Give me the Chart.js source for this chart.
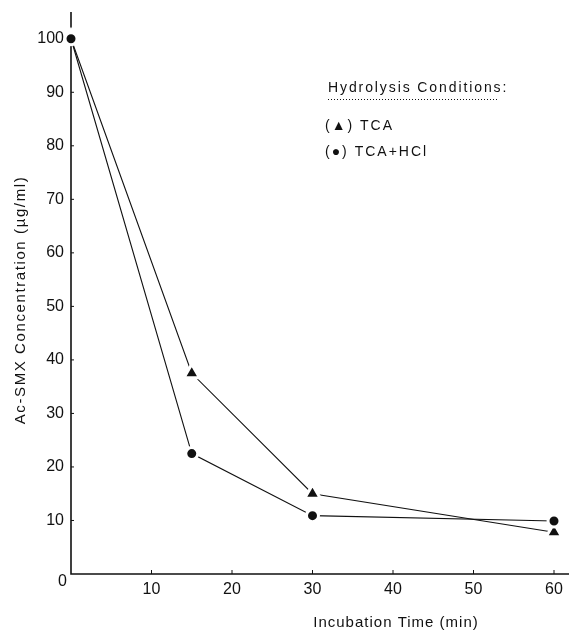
<!DOCTYPE html>
<html>
<head>
<meta charset="utf-8">
<script src="https://cdn.jsdelivr.net/npm/chart.js@4/dist/chart.umd.min.js"></script>
<style>
  html, body { margin: 0; padding: 0; background: #fff; }
  #wrap { width: 569px; height: 631px; position: relative; }
</style>
</head>
<body>
<div id="wrap"><canvas id="c" width="569" height="631"></canvas></div>
<script>
const times = [0, 15, 30, 60];
const tca = [100, 37.5, 15.0, 7.8];
const tcaHcl = [100, 22.5, 10.9, 9.9];
const seriesNames = ['TCA', 'TCA+HCl'];
const xTitle = 'Incubation Time (min)';
const yTitle = 'Ac-SMX Concentration (\u00b5g/ml)';
const legendTitle = 'Hydrolysis Conditions:';
const legendItems = ['(\u25B2) TCA', '(\u25CF) TCA+HCl'];

const INK = '#111';

const decor = {
  id: 'decor',
  beforeDatasetsDraw(chart) {
    const { ctx, chartArea: a, scales: { x, y } } = chart;
    ctx.save();
    ctx.strokeStyle = INK;
    ctx.lineWidth = 1.6;
    ctx.beginPath();
    ctx.moveTo(a.left, 12);
    ctx.lineTo(a.left, a.bottom);
    ctx.lineTo(569, a.bottom);
    ctx.stroke();
    ctx.lineWidth = 1;
    y.ticks.forEach(t => {
      if (t.value === 0) return;
      const py = y.getPixelForValue(t.value);
      ctx.beginPath(); ctx.moveTo(a.left, py); ctx.lineTo(a.left + 3, py); ctx.stroke();
    });
    x.ticks.forEach(t => {
      if (t.value === 0) return;
      const px = x.getPixelForValue(t.value);
      ctx.beginPath(); ctx.moveTo(px, a.bottom); ctx.lineTo(px, a.bottom - 4); ctx.stroke();
    });
    ctx.restore();
  },
  afterDraw(chart) {
    const { ctx } = chart;
    ctx.save();
    ctx.fillStyle = INK;
    ctx.font = '16px "Liberation Sans", Arial, sans-serif';
    ctx.textAlign = 'center';
    ctx.textBaseline = 'middle';
    ctx.fillText('0', 62.5, 582);
    // x title
    ctx.font = '15px "Liberation Sans", Arial, sans-serif';
    ctx.letterSpacing = '1px';
    ctx.fillText(xTitle, 396, 623);
    // y title
    ctx.save();
    ctx.translate(21, 300);
    ctx.rotate(-Math.PI / 2);
    ctx.letterSpacing = '1.6px';
    ctx.fillText(yTitle, 0, 0);
    ctx.restore();
    // legend
    ctx.letterSpacing = '1.9px';
    ctx.font = '14px "Liberation Sans", Arial, sans-serif';
    ctx.textAlign = 'left';
    ctx.textBaseline = 'alphabetic';
    ctx.fillText(legendTitle, 328, 92);
    ctx.save();
    ctx.strokeStyle = INK;
    ctx.lineWidth = 1;
    ctx.setLineDash([1, 2]);
    ctx.beginPath(); ctx.moveTo(328, 99.5); ctx.lineTo(498, 99.5); ctx.stroke();
    ctx.restore();
    ctx.letterSpacing = '2px';
    ctx.font = '14px "Liberation Sans", "DejaVu Sans", sans-serif';
    ctx.fillText(legendItems[0], 325, 130);
    ctx.fillText(legendItems[1], 325, 156);
    ctx.restore();
  }
};

const mk = (arr) => times.map((t, i) => ({ x: t, y: arr[i] }));

new Chart(document.getElementById('c'), {
  type: 'line',
  data: {
    datasets: [
      {
        label: seriesNames[1], data: mk(tcaHcl),
        borderColor: INK, borderWidth: 1.1,
        pointStyle: 'circle', pointRadius: 6, pointBackgroundColor: INK,
        pointBorderColor: '#fff', pointBorderWidth: 3, tension: 0
      },
      {
        label: seriesNames[0], data: mk(tca),
        borderColor: INK, borderWidth: 1.1,
        pointStyle: 'triangle', pointRadius: 9, pointBackgroundColor: INK,
        pointBorderColor: '#fff', pointBorderWidth: 3, tension: 0
      }
    ]
  },
  options: {
    responsive: false,
    animation: false,
    clip: false,
    layout: { padding: { top: 12, right: 15, left: 0, bottom: 0 } },
    plugins: { legend: { display: false }, tooltip: { enabled: false } },
    scales: {
      x: {
        type: 'linear', min: 0, max: 60,
        grid: { display: false, drawTicks: false },
        border: { display: false },
        ticks: {
          stepSize: 10, padding: 6, color: INK,
          font: { family: '"Liberation Sans", Arial, sans-serif', size: 16 },
          callback: v => v === 0 ? '' : v
        },
        afterFit(s) { s.height = 57; s.paddingLeft = 0; s.paddingRight = 0; }
      },
      y: {
        type: 'linear', min: 0, max: 105,
        grid: { display: false, drawTicks: false },
        border: { display: false },
        ticks: {
          stepSize: 10, includeBounds: false, padding: 7, color: INK,
          font: { family: '"Liberation Sans", Arial, sans-serif', size: 16 },
          callback: v => v === 0 ? '' : v
        },
        afterFit(s) { s.width = 71; s.paddingTop = 0; s.paddingBottom = 0; }
      }
    }
  },
  plugins: [decor]
});
</script>
</body>
</html>
